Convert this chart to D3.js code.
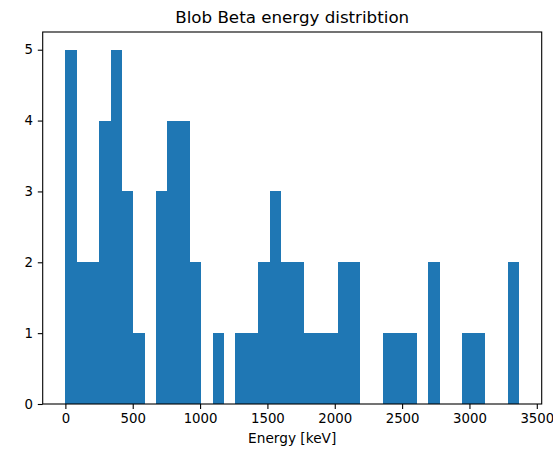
<!DOCTYPE html>
<html>
<head>
<meta charset="utf-8">
<script src="https://cdn.jsdelivr.net/npm/d3@7"></script>
<style>
  body { margin: 0; background: #fff; }
  text { font-family: "DejaVu Sans", sans-serif; fill: #000; }
</style>
</head>
<body>
<div id="chart"></div>
<script>
// histogram: 40 equal bins between binLo and binHi (keV)
var binLo = 0;
var binHi = 3368;
var counts = [5, 2, 2, 4, 5, 3, 1, 0, 3, 4,
              4, 2, 0, 1, 0, 1, 1, 2, 3, 2,
              2, 1, 1, 1, 2, 2, 0, 0, 1, 1,
              1, 0, 2, 0, 0, 1, 1, 0, 0, 2];
var xTicks = [0, 500, 1000, 1500, 2000, 2500, 3000, 3500];
var yTicks = [0, 1, 2, 3, 4, 5];
var title = "Blob Beta energy distribtion";
var xLabel = "Energy [keV]";

var width = 553, height = 451;
var margin = {top: 32, right: 11.3, bottom: 47, left: 42.7};

var binW = (binHi - binLo) / counts.length;
var bins = counts.map(function(c, i) {
  return {x0: binLo + i * binW, x1: binLo + (i + 1) * binW, n: c};
});

var pad = (binHi - binLo) * 0.05;
var yMax = d3.max(counts);

var x = d3.scaleLinear()
  .domain([binLo - pad, binHi + pad])
  .range([margin.left, width - margin.right]);

var y = d3.scaleLinear()
  .domain([0, yMax * 1.05])
  .range([height - margin.bottom, margin.top]);

var svg = d3.select("#chart").append("svg")
  .attr("width", width)
  .attr("height", height);

// crispEdges so neighbouring bars don't show a seam
svg.append("g")
  .attr("shape-rendering", "crispEdges")
  .selectAll("rect")
  .data(bins.filter(function(d) { return d.n > 0; }))
  .enter().append("rect")
  .attr("x", function(d) { return x(d.x0); })
  .attr("y", function(d) { return y(d.n); })
  .attr("width", function(d) { return x(d.x1) - x(d.x0); })
  .attr("height", function(d) { return y(0) - y(d.n); })
  .attr("fill", "#1f77b4");

var xAxis = svg.append("g")
  .attr("transform", "translate(0," + (height - margin.bottom) + ")")
  .call(d3.axisBottom(x).tickValues(xTicks).tickSize(4.9).tickPadding(4.9).tickFormat(d3.format("d")));

var yAxis = svg.append("g")
  .attr("transform", "translate(" + margin.left + ",0)")
  .call(d3.axisLeft(y).tickValues(yTicks).tickSize(4.9).tickPadding(4.9).tickFormat(d3.format("d")));

[xAxis, yAxis].forEach(function(g) {
  g.select(".domain").remove();
  g.selectAll(".tick line").attr("stroke", "#000").attr("stroke-width", 1.1);
  g.selectAll(".tick text")
    .style("font-size", "13.3px")
    .attr("fill", "#000");
});

// frame (all four spines)
svg.append("rect")
  .attr("x", margin.left)
  .attr("y", margin.top)
  .attr("width", width - margin.left - margin.right)
  .attr("height", height - margin.top - margin.bottom)
  .attr("fill", "none")
  .attr("stroke", "#000")
  .attr("stroke-width", 1.1);

svg.append("text")
  .attr("x", (margin.left + width - margin.right) / 2)
  .attr("y", 23)
  .attr("text-anchor", "middle")
  .style("font-size", "16.7px")
  .text(title);

svg.append("text")
  .attr("x", (margin.left + width - margin.right) / 2)
  .attr("y", 443)
  .attr("text-anchor", "middle")
  .style("font-size", "13.7px")
  .text(xLabel);
</script>
</body>
</html>
